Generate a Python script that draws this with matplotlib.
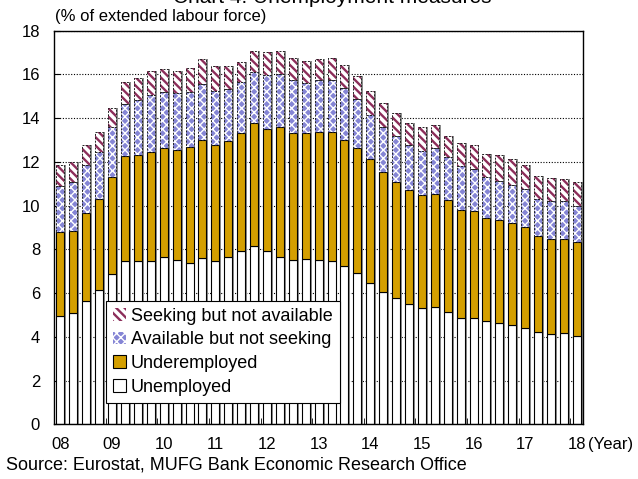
import numpy as np
import matplotlib
matplotlib.use("Agg")
import matplotlib.pyplot as plt
from matplotlib.patches import Patch
from matplotlib.transforms import blended_transform_factory

plt.rcParams["font.family"] = ["Liberation Sans", "DejaVu Sans"]
plt.rcParams["hatch.linewidth"] = 1.0

# quarterly, 2008Q1 .. 2018Q1 (% of extended labour force)
unemployed = [4.95, 5.08, 5.63, 6.13, 6.85, 7.47, 7.47, 7.47, 7.67, 7.52,
              7.36, 7.59, 7.47, 7.65, 7.93, 8.13, 7.91, 7.64, 7.52, 7.55,
              7.52, 7.47, 7.24, 6.94, 6.48, 6.04, 5.76, 5.49, 5.30, 5.38,
              5.15, 4.86, 4.86, 4.73, 4.62, 4.54, 4.39, 4.21, 4.13, 4.16, 4.05]
underemployed = [3.82, 3.76, 4.05, 4.16, 4.45, 4.80, 4.85, 4.98, 4.94, 5.00,
                 5.31, 5.41, 5.30, 5.32, 5.41, 5.64, 5.60, 5.94, 5.81, 5.78,
                 5.84, 5.89, 5.76, 5.69, 5.64, 5.49, 5.34, 5.23, 5.19, 5.15,
                 5.11, 4.94, 4.90, 4.72, 4.71, 4.65, 4.62, 4.40, 4.35, 4.32, 4.30]
available = [2.14, 2.23, 2.16, 2.18, 2.27, 2.36, 2.51, 2.61, 2.60, 2.65,
             2.51, 2.56, 2.49, 2.37, 2.29, 2.36, 2.47, 2.42, 2.39, 2.27,
             2.36, 2.36, 2.37, 2.23, 2.03, 2.08, 2.06, 2.03, 2.01, 2.08,
             1.95, 2.01, 1.90, 1.85, 1.80, 1.74, 1.74, 1.68, 1.72, 1.72, 1.63]
seeking = [0.95, 0.94, 0.93, 0.88, 0.88, 1.00, 0.99, 1.10, 1.02, 1.00,
           1.09, 1.13, 1.10, 1.02, 0.92, 0.94, 1.02, 1.09, 1.02, 0.99,
           0.99, 1.02, 1.06, 1.07, 1.09, 1.07, 1.09, 1.02, 1.07, 1.06,
           0.98, 1.04, 1.11, 1.05, 1.16, 1.20, 1.09, 1.07, 1.08, 1.02, 1.09]
year_labels = ["08", "09", "10", "11", "12", "13", "14", "15", "16", "17", "18"]

gold = "#D49F00"
blue = "#8585D5"
maroon = "#8C2D5A"

u = np.array(unemployed)
ue = np.array(underemployed)
av = np.array(available)
sk = np.array(seeking)
x = np.arange(len(u))
w = 0.62

fig = plt.figure(figsize=(6.38, 4.79), dpi=100)
ax = fig.add_axes([0.0846, 0.1142, 0.8296, 0.8219])

# grey shadow behind each stack
ax.bar(x + 0.15, u + ue + av + sk, w, color="#8c8c8c", lw=0, zorder=1.5)

ax.bar(x, u, w, color="white", edgecolor="black", lw=0.8, zorder=2)
ax.bar(x, ue, w, bottom=u, color=gold, edgecolor="black", lw=0.8, zorder=2)
b2 = u + ue
ax.bar(x, av, w, bottom=b2, color=blue, edgecolor="white", hatch="xxxx", lw=0, zorder=2)
ax.bar(x, av, w, bottom=b2, fill=False, edgecolor="#222222", lw=0.7, ls=(0, (2, 1.5)), zorder=3)
b3 = b2 + av
stripes = ax.bar(x, sk, w, bottom=b3, color="white", edgecolor=maroon, hatch="\\\\\\\\", lw=0, zorder=2)
ax.bar(x, sk, w, bottom=b3, fill=False, edgecolor="#222222", lw=0.7, ls=(0, (2, 1.5)), zorder=3)

ax.set_xlim(-0.5, len(x) - 0.5)
ax.set_ylim(0, 18)
ax.set_yticks(np.arange(0, 19, 2))
ax.tick_params(axis="y", direction="in", length=4, labelsize=12, pad=10)
ax.set_xticks(np.arange(0, len(x), 4))
ax.set_xticklabels(year_labels)
ax.set_xticks(np.arange(3.5, len(x), 4), minor=True)
ax.tick_params(axis="x", which="major", length=0, labelsize=12, pad=9)
ax.tick_params(axis="x", which="minor", direction="in", length=4)
ax.yaxis.grid(True, color="black", ls=(0, (1, 1.5)), lw=0.8)
ax.set_axisbelow(True)
for s in ax.spines.values():
    s.set_linewidth(1.0)

tr = blended_transform_factory(ax.transData, ax.transAxes)
ax.annotate("(Year)", xy=(len(x) - 1, 0), xycoords=tr, xytext=(8, -9),
            textcoords="offset points", ha="left", va="top", fontsize=12)

seek_patch = Patch(facecolor="white", edgecolor=maroon, hatch="\\\\\\\\", lw=0,
                   label="Seeking but not available")
handles = [
    seek_patch,
    Patch(facecolor=blue, edgecolor="white", hatch="xxxx", lw=0, label="Available but not seeking"),
    Patch(facecolor=gold, edgecolor="black", lw=0.8, label="Underemployed"),
    Patch(facecolor="white", edgecolor="black", lw=0.8, label="Unemployed"),
]
leg = ax.legend(handles=handles, loc="lower left", bbox_to_anchor=(0.098, 0.054),
                borderaxespad=0, fontsize=13, frameon=True, fancybox=False,
                edgecolor="black", framealpha=1, handlelength=0.7, handleheight=0.7,
                handletextpad=0.3, labelspacing=0.37, borderpad=0.4)
leg.get_frame().set_linewidth(0.8)
leg.set_zorder(5)

# thicker diagonal stripes where the installed matplotlib allows it
for p in list(stripes) + [leg.legend_handles[0]]:
    if hasattr(p, "set_hatch_linewidth"):
        p.set_hatch_linewidth(1.7)

fig.text(0.52, 1 - 3 / 479, "Chart 4: Unemployment measures", ha="center",
         va="baseline", fontsize=15)
fig.text(55 / 638, 1 - 17 / 479, "(% of extended labour force)", va="center", fontsize=12)
fig.text(6 / 638, 1 - 465 / 479, "Source: Eurostat, MUFG Bank Economic Research Office",
         va="center", fontsize=13)

fig.savefig("out.png", dpi=100)
